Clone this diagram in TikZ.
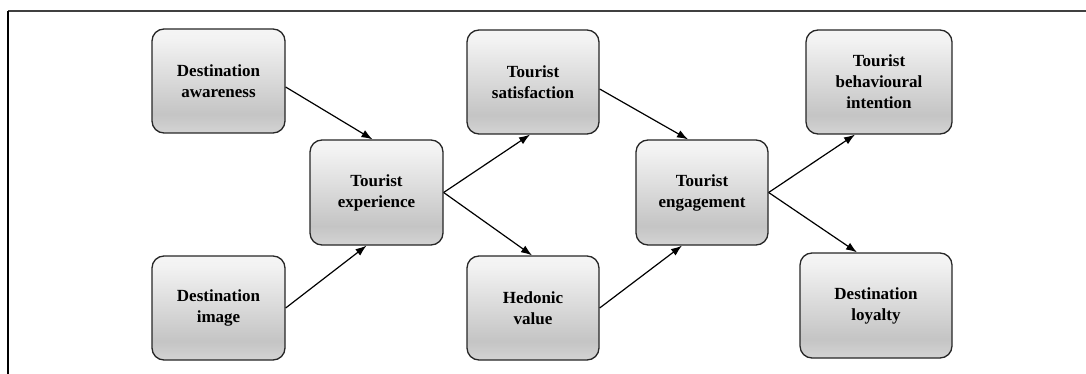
\documentclass[tikz,border=0pt]{standalone}
\usepackage{fontspec}
\setmainfont{Liberation Serif}
\usetikzlibrary{arrows.meta}
\pgfdeclareverticalshading{boxshade}{100bp}{color(0bp)=(black!17); color(25bp)=(black!17); color(34bp)=(black!23); color(70bp)=(black!5); color(75bp)=(black!4); color(100bp)=(black!4)}
\tikzset{
  box/.style={draw=black!85, line width=1.3pt, rounded corners=12pt, shading=boxshade,
    align=center, font=\fontsize{17}{21}\selectfont\bfseries, inner sep=2pt},
  conn/.style={draw=black, line width=1.2pt, -{Latex[length=11pt,width=8pt]}},
  frameline/.style={line width=1.6pt}
}
\begin{document}
\begin{tikzpicture}[x=1pt,y=-1pt]
\useasboundingbox (0,0) rectangle (1086,374);
\coordinate (fa) at (8,374);
\coordinate (fb) at (8,11);
\coordinate (fc) at (1086,11);
\draw[frameline, black!75] (fb) -- (fc);
\draw[frameline, black] (fa) -- (fb);

\node[box, minimum width=133pt, minimum height=104pt] (da) at (218.5,81) {Destination\\awareness};
\node[box, minimum width=133pt, minimum height=104pt] (di) at (218.5,308) {Destination\\image};
\node[box, minimum width=133pt, minimum height=105pt] (te) at (376.5,192.5) {Tourist\\experience};
\node[box, minimum width=132pt, minimum height=104pt] (ts) at (533,82) {Tourist\\satisfaction};
\node[box, minimum width=132pt, minimum height=104pt] (hv) at (533,308) {Hedonic\\value};
\node[box, minimum width=132pt, minimum height=105pt] (teng) at (702,192.5) {Tourist\\engagement};
\node[box, minimum width=146pt, minimum height=104pt] (tbi) at (879,82) {Tourist\\behavioural\\intention};
\node[box, minimum width=152pt, minimum height=105pt] (dl) at (876,305.5) {Destination\\loyalty};

\draw[conn] ([yshift=-6pt]da.east) -- ([xshift=-4pt]te.north);
\draw[conn] (di.east) -- ([xshift=-10pt]te.south);
\draw[conn] (te.east) -- ([xshift=-3pt]ts.south);
\draw[conn] (te.east) -- ([xshift=-1pt]hv.north);
\draw[conn] ([yshift=-7pt]ts.east) -- ([xshift=-14pt]teng.north);
\draw[conn] (hv.east) -- ([xshift=-20pt]teng.south);
\draw[conn] (teng.east) -- ([xshift=-24pt]tbi.south);
\draw[conn] (teng.east) -- ([xshift=-19pt]dl.north);
\end{tikzpicture}
\end{document}
